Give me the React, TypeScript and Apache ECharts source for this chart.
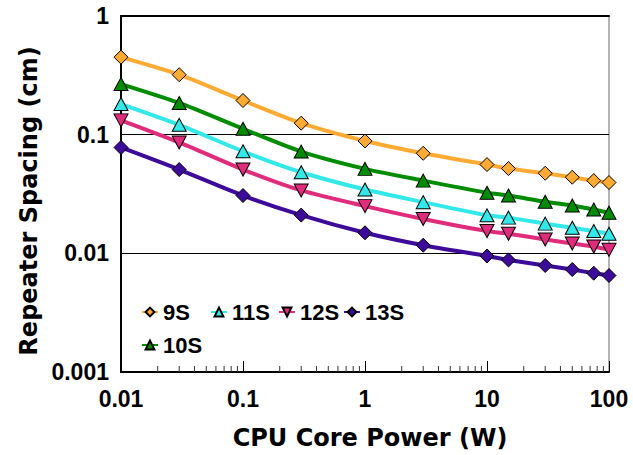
import React, { useEffect, useRef } from "react";
import * as echarts from "echarts";

const powerW = [0.01, 0.03, 0.1, 0.3, 1, 3, 10, 15, 30, 50, 75, 100];
const s9 = [0.45, 0.32, 0.194, 0.125, 0.0885, 0.0697, 0.056, 0.0518, 0.0473, 0.0438, 0.041, 0.0395];
const s10 = [0.267, 0.185, 0.112, 0.072, 0.0515, 0.041, 0.0324, 0.0307, 0.0272, 0.0253, 0.0234, 0.022];
const s11 = [0.181, 0.121, 0.0724, 0.0482, 0.0345, 0.027, 0.0209, 0.02, 0.0178, 0.0164, 0.0154, 0.0146];
const s12 = [0.132, 0.086, 0.0508, 0.0339, 0.025, 0.0195, 0.0154, 0.0146, 0.0131, 0.0121, 0.0114, 0.0107];
const s13 = [0.078, 0.0508, 0.0307, 0.021, 0.0149, 0.0117, 0.0095, 0.0088, 0.0079, 0.0073, 0.0068, 0.0065];

const decades = [0.01, 0.1, 1, 10];
const minorMultipliers = [2, 3, 4, 5, 6, 7, 8, 9];

const LABEL_FONT = "'Liberation Sans', Arial, sans-serif";
const TITLE_FONT = "'DejaVu Sans', sans-serif";

export default function App() {
  const ref = useRef<HTMLDivElement>(null);
  useEffect(() => {
    if (!ref.current) return;
    const chart = echarts.init(ref.current, undefined, { renderer: "svg" });
    const pair = (ys: number[]) => powerW.map((x, i) => [x, ys[i]]);
    const minorTicks: number[][] = [];
    decades.forEach((d) => minorMultipliers.forEach((m) => minorTicks.push([d * m, 0.001])));

    const mk = (name: string, ys: number[], color: string, symbol: string, size: any, rotate = 0) => ({
      name,
      type: "line",
      data: pair(ys),
      smooth: 0.25,
      symbol,
      symbolSize: size,
      symbolRotate: rotate,
      showAllSymbol: true,
      clip: true,
      lineStyle: { color, width: 4 },
      itemStyle: { color, borderColor: "#000", borderWidth: 1 },
      emphasis: { disabled: true },
    });

    const legendBase = {
      orient: "horizontal",
      itemWidth: 16,
      itemHeight: 11,
      itemGap: 0,
      padding: 0,
      textStyle: { fontFamily: LABEL_FONT, fontWeight: "bold", fontSize: 22, color: "#000" },
      selectedMode: false,
    };

    chart.setOption({
      animation: false,
      backgroundColor: "#fff",
      grid: { left: 121, top: 16, right: 24, bottom: 82, show: true, borderColor: "#666", borderWidth: 1 },
      legend: [
        { ...legendBase, data: ["9S"], left: 141, top: 301 },
        { ...legendBase, data: ["11S"], left: 210, top: 301 },
        { ...legendBase, data: ["12S"], left: 278, top: 301 },
        { ...legendBase, data: ["13S"], left: 343, top: 301 },
        { ...legendBase, data: ["10S"], left: 141, top: 334 },
      ],
      xAxis: [
        {
          type: "log",
          logBase: 10,
          min: 0.01,
          max: 100,
          position: "bottom",
          name: "CPU Core Power (W)",
          nameLocation: "middle",
          nameGap: 54,
          nameTextStyle: {
            fontFamily: TITLE_FONT,
            fontWeight: "bold",
            fontSize: 24,
            color: "#000",
            padding: [0, 0, 0, 10],
          },
          axisLine: { show: true, lineStyle: { color: "#000", width: 2 } },
          axisTick: { show: true, inside: true, length: 11, lineStyle: { color: "#000", width: 1 } },
          axisLabel: {
            fontFamily: LABEL_FONT,
            fontWeight: "bold",
            fontSize: 23,
            color: "#000",
            margin: 15,
            formatter: (v: number) => String(v),
          },
          splitLine: { show: false },
        },
        {
          type: "log",
          logBase: 10,
          min: 0.01,
          max: 100,
          position: "top",
          axisLine: { show: true, lineStyle: { color: "#000", width: 2 } },
          axisTick: { show: false },
          axisLabel: { show: false },
          splitLine: { show: false },
        },
      ],
      yAxis: {
        type: "log",
        logBase: 10,
        min: 0.001,
        max: 1,
        name: "Repeater Spacing (cm)",
        nameLocation: "middle",
        nameGap: 80,
        nameRotate: 90,
        nameTextStyle: {
          fontFamily: TITLE_FONT,
          fontWeight: "bold",
          fontSize: 24,
          color: "#000",
          padding: [0, 14, 0, 0],
        },
        axisLine: { show: true, lineStyle: { color: "#000", width: 2 } },
        axisTick: { show: false },
        axisLabel: {
          fontFamily: LABEL_FONT,
          fontWeight: "bold",
          fontSize: 23,
          color: "#000",
          margin: 12,
          formatter: (v: number) => String(v),
        },
        splitLine: { show: true, lineStyle: { color: "#000", width: 1 } },
      },
      series: [
        {
          name: "minorTicks",
          type: "custom",
          data: minorTicks,
          silent: true,
          z: 1,
          renderItem: (_p: any, api: any) => {
            const pt = api.coord([api.value(0), api.value(1)]);
            return {
              type: "line",
              shape: { x1: pt[0], y1: pt[1], x2: pt[0], y2: pt[1] - 6 },
              style: { stroke: "#333", lineWidth: 1 },
            };
          },
        },
        mk("9S", s9, "#FFAA33", "diamond", 14),
        mk("10S", s10, "#008C00", "triangle", [14, 13]),
        mk("11S", s11, "#33E8E8", "triangle", [14, 13]),
        mk("12S", s12, "#E02C7C", "triangle", [14, 13], 180),
        mk("13S", s13, "#3D0A99", "diamond", 14),
      ],
    });
    return () => chart.dispose();
  }, []);
  return <div ref={ref} style={{ width: 633, height: 455, position: "absolute", left: 0, top: 0 }} />;
}
